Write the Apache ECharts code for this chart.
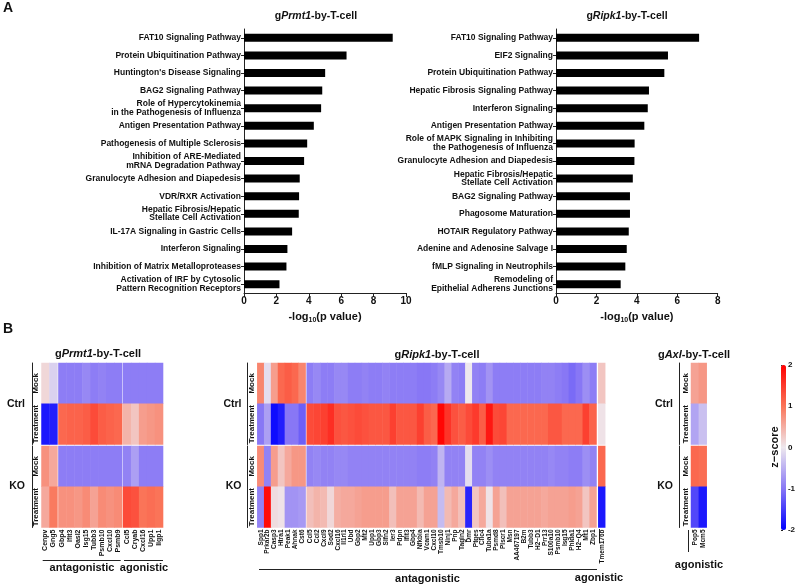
<!DOCTYPE html>
<html>
<head>
<meta charset="utf-8">
<title>Pathways and z-score heatmaps</title>
<script src="https://cdn.jsdelivr.net/npm/echarts@6/dist/echarts.min.js"></script>
<style>
  html, body { margin: 0; padding: 0; background: #fff; }
  #chart { width: 798px; height: 586px; }
</style>
</head>
<body>
<div id="chart"></div>
<script>
// ---- panel A: pathway enrichment, -log10(p value) ----
var prmt1Pathways = [
  'FAT10 Signaling Pathway',
  'Protein Ubiquitination Pathway',
  "Huntington's Disease Signaling",
  'BAG2 Signaling Pathway',
  'Role of Hypercytokinemia\nin the Pathogenesis of Influenza',
  'Antigen Presentation Pathway',
  'Pathogenesis of Multiple Sclerosis',
  'Inhibition of ARE-Mediated\nmRNA Degradation Pathway',
  'Granulocyte Adhesion and Diapedesis',
  'VDR/RXR Activation',
  'Hepatic Fibrosis/Hepatic\nStellate Cell Activation',
  'IL-17A Signaling in Gastric Cells',
  'Interferon Signaling',
  'Inhibition of Matrix Metalloproteases',
  'Activation of IRF by Cytosolic\nPattern Recognition Receptors'
];
var prmt1Values = [9.18, 6.33, 5.01, 4.83, 4.76, 4.31, 3.90, 3.71, 3.44, 3.40, 3.38, 2.97, 2.68, 2.62, 2.19];

var ripk1Pathways = [
  'FAT10 Signaling Pathway',
  'EIF2 Signaling',
  'Protein Ubiquitination Pathway',
  'Hepatic Fibrosis Signaling Pathway',
  'Interferon Signaling',
  'Antigen Presentation Pathway',
  'Role of MAPK Signaling in Inhibiting\nthe Pathogenesis of Influenza',
  'Granulocyte Adhesion and Diapedesis',
  'Hepatic Fibrosis/Hepatic\nStellate Cell Activation',
  'BAG2 Signaling Pathway',
  'Phagosome Maturation',
  'HOTAIR Regulatory Pathway',
  'Adenine and Adenosine Salvage I',
  'fMLP Signaling in Neutrophils',
  'Remodeling of\nEpithelial Adherens Junctions'
];
var ripk1Values = [7.08, 5.54, 5.36, 4.60, 4.54, 4.37, 3.89, 3.88, 3.80, 3.66, 3.66, 3.60, 3.50, 3.43, 3.20];

// ---- panel B: z-scores, one array per condition row ----
var rowLabels = ['Mock', 'Treatment'];

var prmt1Genes = ['Cenpv', 'Gng5',
  'Gbp4', 'Ifit3', 'Oasl2', 'Isg15', 'Tubb3', 'Psmb10', 'Cxcl10', 'Psmb9',
  'Ccl5', 'Cryab', 'Cxcl16', 'Upp1', 'Iigp1'];
var prmt1Groups = [2, 8, 5];
var prmt1CtrlMock  = [0.15, -0.2, -0.95, -0.95, -0.95, -0.85, -0.95, -0.9, -0.95, -0.95, -0.95, -0.95, -0.95, -0.95, -0.95];
var prmt1CtrlTreat = [-1.8, -1.75, 1.1, 1.15, 1.15, 1.2, 1.35, 1.2, 1.15, 1.1, 0.45, 0.3, 0.65, 0.7, 0.75];
var prmt1KoMock    = [0.75, 0.55, -0.95, -0.95, -0.95, -0.95, -0.95, -0.95, -0.95, -0.95, -0.9, -0.65, -0.95, -0.95, -0.95];
var prmt1KoTreat   = [0.55, 0.95, 0.75, 0.75, 0.7, 0.8, 0.6, 0.8, 0.75, 0.8, 1.35, 1.3, 1.0, 1.05, 1.0];

var ripk1Genes = ['Spp1', 'Prkar2b', 'Casp3', 'Htra1', 'Peak1', 'Ahnak', 'Cst6',
  'Ccl5', 'Ccl2', 'Cxcl9', 'Sod2', 'Cxcl16', 'Il1rl1', 'Ubd', 'Gbp2', 'Mt2', 'Upp1',
  'Gbp3', 'Slfn2', 'Ier3', 'Pdpn', 'Ifit3', 'Gbp4', 'Nfkbia', 'Vcam1', 'Cxcl10', 'Tmsb10',
  'Ninj1', 'Pnp', 'Tagln2', 'Dmr', 'Ptges', 'Clic4', 'Tuba1a', 'Psmd8', 'Plscr1', 'Msn',
  'AA467197', 'B2m', 'Tubb3', 'H2\u2212D1', 'Prr13', 'S100a10', 'Psmb10', 'Isg15', 'Phlda1',
  'H2\u2212Q4', 'Mt1', 'Zbp1',
  'Tmem176b'];
var ripk1Groups = [7, 42, 1];
var ripk1CtrlMock = [0.85, -0.1, 0.65, 1.1, 1.2, 1.1, 0.85,
  -0.95, -0.85, -0.95, -0.95, -0.85, -0.85, -0.95, -0.95, -0.9, -0.95,
  -0.95, -0.9, -0.95, -0.95, -0.95, -0.95, -1.0, -1.0, -0.95, -0.85,
  -0.55, -0.9, -0.95, 0.0, -0.9, -0.95, -0.75, -0.95, -0.95, -0.95,
  -0.95, -0.95, -0.95, -0.95, -0.9, -0.9, -0.95, -1.0, -1.1,
  -1.0, -0.8, -0.95,
  0.3];
var ripk1CtrlTreat = [-1.0, -0.65, -1.9, -1.75, -1.0, -1.0, -1.2,
  1.35, 1.4, 1.45, 1.6, 1.3, 1.25, 1.3, 1.35, 1.3, 1.25,
  1.25, 1.25, 1.45, 1.25, 1.25, 1.25, 1.45, 1.2, 1.1, 1.95,
  1.55, 1.3, 1.2, 1.35, 1.5, 1.2, 1.8, 1.35, 1.4, 1.1,
  1.1, 1.1, 1.1, 1.1, 1.1, 1.25, 1.25, 1.1, 1.1,
  1.1, 1.45, 1.15,
  0.05];
var ripk1KoMock = [0.8, -0.9, 0.65, 0.3, 0.55, 0.7, 0.7,
  -0.9, -0.85, -0.9, -0.9, -0.85, -0.85, -0.9, -0.9, -0.9, -0.9,
  -0.9, -0.9, -0.9, -0.9, -0.9, -0.9, -0.95, -0.95, -0.9, -0.45,
  -0.9, -0.9, -0.9, -0.1, -0.9, -0.9, -0.8, -0.9, -0.9, -0.9,
  -0.9, -0.9, -0.9, -0.9, -0.9, -0.85, -0.9, -0.9, -0.95,
  -0.95, -0.8, -0.9,
  1.1];
var ripk1KoTreat = [-0.9, 1.9, 0.1, 0.05, -0.75, -0.75, -0.7,
  0.35, 0.45, 0.4, 0.15, 0.5, 0.55, 0.55, 0.6, 0.65, 0.65,
  0.65, 0.65, 0.35, 0.6, 0.6, 0.6, 0.4, 0.6, 0.6, -0.4,
  0.4, 0.55, 0.35, -1.7, 0.3, 0.55, 0.05, 0.6, 0.35, 0.6,
  0.6, 0.6, 0.6, 0.6, 0.55, 0.6, 0.6, 0.6, 0.65,
  0.6, 0.3, 0.6,
  -1.8];

var axlGenes = ['Pop5', 'Mcm5'];
var axlGroups = [2];
var axlCtrlMock  = [0.6, 0.7];
var axlCtrlTreat = [-0.6, -0.35];
var axlKoMock    = [1.1, 1.05];
var axlKoTreat   = [-1.4, -1.8];

var zTicks = [-2, 2, 1];   // min, max, step of the colour key

var font = '"Liberation Sans", Arial, sans-serif';
var ink = '#111';
var grids = [], xAxes = [], yAxes = [], series = [], heatIdx = [], graphics = [];

function barPanel(names, values, left, width, max) {
  var gi = grids.length;
  grids.push({ left: left, top: 29, width: width, height: 264 });
  xAxes.push({
    type: 'value', gridIndex: gi, min: 0, max: max, interval: 2,
    axisLine: { show: true, lineStyle: { color: '#222', width: 1 } },
    axisTick: { show: true, length: 4, lineStyle: { color: '#222' } },
    splitLine: { show: false },
    axisLabel: { fontSize: 10, fontWeight: 'bold', color: ink, fontFamily: font, margin: 3 },
    name: '-log{s|10}(p value)', nameLocation: 'middle', nameGap: 17,
    nameTextStyle: {
      fontSize: 11, fontWeight: 'bold', color: ink, fontFamily: font, lineHeight: 14,
      rich: { s: { fontSize: 7, fontWeight: 'bold', color: ink, fontFamily: font, verticalAlign: 'bottom', lineHeight: 10 } }
    }
  });
  yAxes.push({
    type: 'category', gridIndex: gi, data: names, inverse: true,
    axisLine: { show: true, lineStyle: { color: '#222', width: 1 } },
    axisTick: { show: true, alignWithLabel: true, length: 3, lineStyle: { color: '#222' } },
    axisLabel: { fontSize: 8.5, fontWeight: 'bold', color: ink, fontFamily: font, lineHeight: 8.5, margin: 3, interval: 0 }
  });
  series.push({
    type: 'bar', xAxisIndex: xAxes.length - 1, yAxisIndex: yAxes.length - 1,
    data: values, barWidth: 8, itemStyle: { color: '#000' }, silent: true
  });
}

function heatPanel(genes, groups, rows, x0, colW, gaps, lineOff, labMargin, geneSize) {
  var tops = [363, 446], h = 81.5;
  for (var c = 0; c < 2; c++) {
    var start = 0, left = x0;
    for (var g = 0; g < groups.length; g++) {
      var n = groups[g];
      var gi = grids.length;
      grids.push({ left: left, top: tops[c], width: n * colW, height: h });
      xAxes.push({
        type: 'category', gridIndex: gi, data: genes.slice(start, start + n), show: c === 1,
        axisLine: { show: false }, axisTick: { show: false }, splitLine: { show: false },
        axisLabel: { interval: 0, rotate: 90, fontSize: geneSize, fontWeight: 'bold', color: ink, fontFamily: font, margin: 2 }
      });
      yAxes.push({
        type: 'category', gridIndex: gi, data: rowLabels, inverse: true, show: g === 0,
        offset: lineOff,
        axisLine: { show: true, lineStyle: { color: '#222', width: 1 } },
        axisTick: { show: false }, splitLine: { show: false },
        axisLabel: { interval: 0, hideOverlap: false, rotate: 90, margin: labMargin, fontSize: 8, fontWeight: 'bold', color: ink, fontFamily: font }
      });
      var data = [];
      for (var k = 0; k < n; k++) {
        data.push([k, 0, rows[2 * c][start + k]]);
        data.push([k, 1, rows[2 * c + 1][start + k]]);
      }
      heatIdx.push(series.length);
      series.push({
        type: 'heatmap', xAxisIndex: xAxes.length - 1, yAxisIndex: yAxes.length - 1,
        data: data, silent: true, progressive: 0, emphasis: { disabled: true },
        itemStyle: { borderWidth: 0 }
      });
      start += n;
      left += n * colW + (gaps[g] || 0);
    }
  }
}

function txt(t, x, y, size, align, extra) {
  var el = {
    type: 'text', x: x, y: y, silent: true,
    style: { text: t, fontSize: size, fontWeight: 'bold', fontFamily: font, fill: ink,
      align: align || 'center', verticalAlign: 'middle' }
  };
  if (extra) for (var k in extra) el[k] = extra[k];
  return el;
}
function titleTxt(name, x, y, size) {
  var base = { fontSize: size, fontWeight: 'bold', fontFamily: font, fill: ink };
  return {
    type: 'text', x: x, y: y, silent: true,
    style: {
      text: '{n|g}{i|' + name + '}{n|-by-T-cell}', align: 'center', verticalAlign: 'middle',
      rich: { n: base, i: { fontSize: size, fontWeight: 'bold', fontStyle: 'italic', fontFamily: font, fill: ink } }
    }
  };
}
function line(x1, y1, x2, y2) {
  return { type: 'line', silent: true, shape: { x1: x1, y1: y1, x2: x2, y2: y2 }, style: { stroke: '#222', lineWidth: 1 } };
}

barPanel(prmt1Pathways, prmt1Values, 244, 162, 10);
barPanel(ripk1Pathways, ripk1Values, 556, 161.7, 8);

heatPanel(prmt1Genes, prmt1Groups, [prmt1CtrlMock, prmt1CtrlTreat, prmt1KoMock, prmt1KoTreat],
  41.5, 7.97, [1, 1], 9, -7.5, 7);
heatPanel(ripk1Genes, ripk1Groups, [ripk1CtrlMock, ripk1CtrlTreat, ripk1KoMock, ripk1KoTreat],
  257.3, 6.9, [1.1, 1.8], 10.5, -8.7, 6.5);
heatPanel(axlGenes, axlGroups, [axlCtrlMock, axlCtrlTreat, axlKoMock, axlKoTreat],
  691, 7.85, [], 12, -10.5, 6.5);

// colour key axis
var cg = grids.length;
grids.push({ left: 781, top: 365, width: 5, height: 165 });
xAxes.push({ type: 'value', gridIndex: cg, show: false });
yAxes.push({
  type: 'value', gridIndex: cg, position: 'right', min: zTicks[0], max: zTicks[1], interval: zTicks[2],
  axisLine: { show: false }, splitLine: { show: false },
  axisTick: { show: true, length: 2, lineStyle: { color: '#222' } },
  axisLabel: { fontSize: 8, fontWeight: 'bold', color: ink, fontFamily: font, margin: 2 }
});

graphics.push(
  txt('A', 3, 8, 14, 'left'),
  txt('B', 3, 329, 14, 'left'),
  titleTxt('Prmt1', 316, 16, 10.5),
  titleTxt('Ripk1', 627, 16, 10.5),
  titleTxt('Prmt1', 98, 354, 11),
  titleTxt('Ripk1', 437, 355, 11),
  titleTxt('Axl', 694, 355, 11),
  txt('Ctrl', 25, 404, 10.5, 'right'), txt('KO', 25, 486, 10.5, 'right'),
  txt('Ctrl', 241.5, 404, 10.5, 'right'), txt('KO', 241.5, 486, 10.5, 'right'),
  txt('Ctrl', 673, 404, 10.5, 'right'), txt('KO', 673, 486, 10.5, 'right'),
  line(42.7, 560.5, 120.7, 560.5), line(124, 560.5, 163, 560.5),
  txt('antagonistic', 82, 568, 11), txt('agonistic', 144, 568, 11),
  line(259, 569.5, 597, 569.5), line(599.5, 529, 599.5, 543),
  txt('antagonistic', 427.5, 579, 11), txt('agonistic', 599, 578, 11),
  line(688.5, 530, 688.5, 552), txt('agonistic', 699, 565, 11),
  txt('z\u2212score', 775, 447, 11, 'center', { rotation: Math.PI / 2 })
);

var myChart = echarts.init(document.getElementById('chart'), null, { renderer: 'canvas' });
myChart.setOption({
  animation: false,
  backgroundColor: '#fff',
  textStyle: { fontFamily: font },
  grid: grids,
  xAxis: xAxes,
  yAxis: yAxes,
  visualMap: {
    type: 'continuous', min: -2, max: 2, seriesIndex: heatIdx,
    calculable: false, orient: 'vertical', left: 781, top: 365,
    itemWidth: 5, itemHeight: 165, padding: 0, text: null, showLabel: false,
    inRange: { color: ['#0000ff', '#8877f5', '#eee8ee', '#fa7458', '#ff0000'] }
  },
  series: series,
  graphic: { elements: graphics }
});
</script>
</body>
</html>
